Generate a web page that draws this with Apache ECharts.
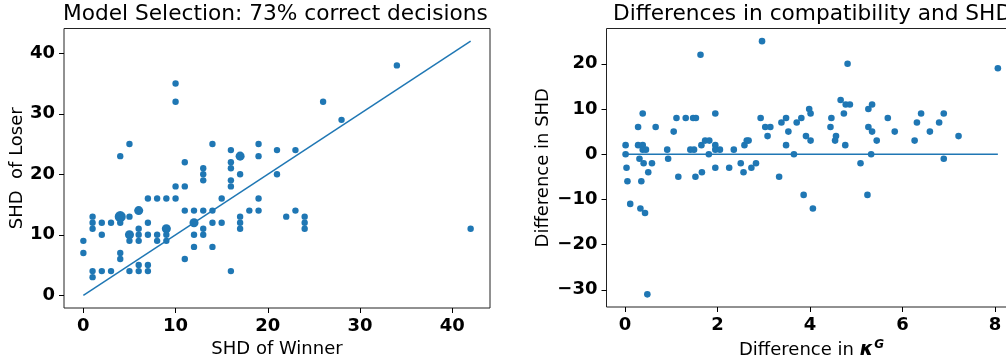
<!DOCTYPE html>
<html>
<head>
<meta charset="utf-8">
<script src="https://cdn.jsdelivr.net/npm/echarts@6/dist/echarts.min.js"></script>
<style>
  html, body { margin: 0; padding: 0; background: #fff; }
  #main { width: 1006px; height: 360px; }
</style>
</head>
<body>
<div id="main"></div>
<script>
// left panel: SHD of winner vs loser (count = how many pairs share the point)
var winnerShd = [0,0, 1,1,1,1,1, 2,2,2, 3,3, 4,4,4,4,4, 5,5,5,5,5, 6,6,6,6,6,6, 7,7,7,7,7, 8,8,8,
  9,9,9,9, 10,10,10,10, 11,11,11,11, 12,12,12,12, 13,13,13,13,13,13, 14,14,14,14, 15,15,
  16,16,16,16,16,16, 17,17,17,17,17, 18, 19,19,19,19, 21,21, 22, 23,23, 24,24,24, 26, 28, 34, 42];
var loserShd = [9,7, 13,12,11,4,3, 12,10,4, 12,4, 23,13,12,7,6, 25,13,10,9,4, 14,11,10,9,5,4, 16,12,10,5,4, 16,10,9,
  16,11,10,9, 35,32,18,16, 22,18,14,6, 14,12,10,8, 21,20,19,14,11,10, 25,14,12,8, 16,12,
  24,22,21,19,18,4, 23,20,13,12,11, 14, 25,23,16,14, 24,20, 13, 24,14, 13,12,11, 32, 29, 38, 11];
var pairCount = [1,1, 1,1,1,1,1, 1,1,1, 1,1, 1,3,1,1,1, 1,1,2,1,1, 2,1,1,1,1,1, 1,1,1,1,1, 1,1,1,
  1,2,1,1, 1,1,1,1, 1,1,1,1, 1,2,1,1, 1,1,1,1,1,1, 1,1,1,1, 1,1,
  1,1,1,1,1,1, 2,1,1,1,1, 1, 1,1,1,1, 1,1, 1, 1,1, 1,1,1, 1, 1, 1, 1];
var diagX = [0, 42];
var diagY = [0, 42];
var leftTicks = [0, 10, 20, 30, 40];

// right panel: difference in kappa^G vs difference in SHD
var kappaDiff = [0.01,0.01,0.03,0.05,0.11, 0.28,0.38,0.28,0.38,0.38,0.45,0.31,0.40,0.58,0.50,0.35,0.33,0.43,0.48,0.66,
  0.91,0.93,1.05,1.11,1.31,1.47,1.53,1.15,1.41,1.49,1.52,1.63,1.66,1.65,1.73,1.82,1.81,1.95,1.95,1.95,2.05,1.95,
  2.25,2.35,2.50,2.56,2.58,2.63,2.67,2.73,2.83,2.93,2.96,3.03,3.14,3.08,3.33,3.38,3.48,3.48,3.53,3.65,3.71,3.81,3.86,3.91,3.98,4.01,4.01,4.06,
  4.44,4.46,4.54,4.56,4.66,4.73,4.76,4.77,4.81,4.86,5.09,5.24,5.26,5.34,5.26,5.34,5.32,5.44,5.68,5.83,6.26,6.31,6.40,6.59,6.79,6.89,6.89,7.21,8.06];
var shdDiff = [2,0,-3,-6,-11, 6,9,2,2,1,1,-1,-2,-2,-4,-6,-12,-13,-31,6,
  1,-1,5,8,8,8,8,-5,1,1,-5,22,-4,2,3,3,0,9,2,1,1,-3,
  -3,1,-2,-4,2,3,3,-3,-2,8,25,6,6,4,-5,7,8,2,5,0,7,8,-9,4,10,9,3,-12,
  6,8,3,4,12,9,2,11,20,11,-2,-9,10,11,6,5,0,3,8,5,3,7,9,5,7,9,-1,4,19];
var zeroX = [0, 8.06];
var zeroY = [0, 0];
var rightXTicks = [0, 2, 4, 6, 8];
var rightYTicks = [-30, -20, -10, 0, 10, 20];

var blue = '#1f77b4';
var font = 'DejaVu Sans';

function pairs(xs, ys, cs) {
    return xs.map(function (x, i) { return cs ? [x, ys[i], cs[i]] : [x, ys[i]]; });
}
function minus(v) { return String(v).replace('-', '\u2212'); }

function makeAxis(gi, lo, hi, ticks, name, gap) {
    return {
        type: 'value', gridIndex: gi, min: lo, max: hi,
        name: name, nameLocation: 'middle', nameGap: gap,
        nameTextStyle: { fontFamily: font, fontSize: 18, color: '#000' },
        axisLine: { show: false, onZero: false },
        splitLine: { show: false },
        axisTick: { show: true, inside: false, length: 5, customValues: ticks, lineStyle: { color: '#000', width: 1 } },
        axisLabel: {
            customValues: ticks, margin: 9, formatter: minus,
            fontFamily: font, fontSize: 18, fontWeight: 'bold', color: '#000'
        }
    };
}

var chart = echarts.init(document.getElementById('main'));
var option = {
    animation: false,
    graphic: [
        { type: 'text', left: 63, top: 3, style: { text: 'Model Selection: 73% correct decisions', font: '21.7px "DejaVu Sans"', fill: '#000' } },
        { type: 'text', x: 613, y: 3, style: { text: 'Differences in compatibility and SHD', font: '21.7px "DejaVu Sans"', fill: '#000' } }
    ],
    grid: [
        { left: 64, top: 28.5, width: 426, height: 279.5, show: true, borderColor: '#222', borderWidth: 1, outerBoundsMode: 'none' },
        { left: 606.5, top: 28.5, width: 410, height: 278.5, show: true, borderColor: '#222', borderWidth: 1, outerBoundsMode: 'none' }
    ],
    xAxis: [
        makeAxis(0, -2.1, 44.1, leftTicks, 'SHD of Winner', 26),
        (function () {
            var a = makeAxis(1, -0.403, 8.463, rightXTicks, '', 26);
            a.name = '{n|Difference in }{k|\u03ba}{s|G}';
            a.nameTextStyle = {
                rich: {
                    n: { fontFamily: font, fontSize: 18, color: '#000' },
                    k: { fontFamily: font, fontSize: 19, fontWeight: 'bold', fontStyle: 'italic', color: '#000' },
                    s: { fontFamily: font, fontSize: 12, fontWeight: 'bold', fontStyle: 'italic', color: '#000', verticalAlign: 'top', padding: [0, 0, 10, 1] }
                }
            };
            return a;
        })()
    ],
    yAxis: [
        makeAxis(0, -2.1, 44.1, leftTicks, 'SHD  of Loser', 35),
        makeAxis(1, -33.8, 27.8, rightYTicks, 'Difference in SHD', 54)
    ],
    series: [
        {
            type: 'scatter', xAxisIndex: 0, yAxisIndex: 0,
            data: pairs(winnerShd, loserShd, pairCount),
            symbolSize: function (v) { return 6.4 * Math.sqrt(v[2]); },
            itemStyle: { color: blue, opacity: 1 }
        },
        {
            type: 'line', xAxisIndex: 0, yAxisIndex: 0, data: pairs(diagX, diagY),
            symbol: 'none', lineStyle: { color: blue, width: 1.5 }
        },
        {
            type: 'scatter', xAxisIndex: 1, yAxisIndex: 1,
            data: pairs(kappaDiff, shdDiff), symbolSize: 6.6,
            itemStyle: { color: blue, opacity: 1 }
        },
        {
            type: 'line', xAxisIndex: 1, yAxisIndex: 1, data: pairs(zeroX, zeroY),
            symbol: 'none', lineStyle: { color: blue, width: 1.5 }
        }
    ]
};
chart.setOption(option);
</script>
</body>
</html>
